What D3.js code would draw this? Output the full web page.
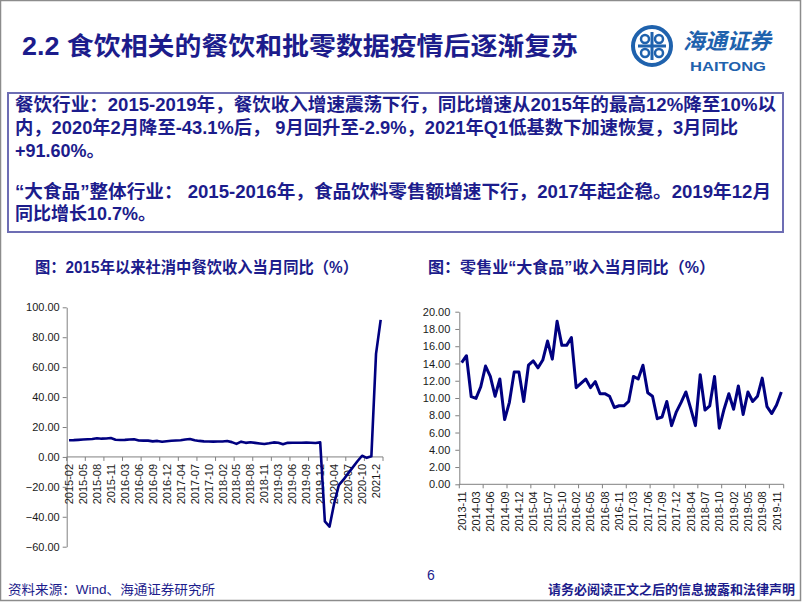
<!DOCTYPE html>
<html><head><meta charset="utf-8">
<script src="https://cdn.jsdelivr.net/npm/d3@7"></script>
<style>
html,body{margin:0;padding:0;background:#fff;}
svg{display:block;}
</style></head>
<body>
<script>
// ---------- DATA ----------
const restCategories = [
"2015-02","2015-03","2015-04","2015-05","2015-06","2015-07","2015-08","2015-09","2015-10","2015-11","2015-12",
"2016-02","2016-03","2016-04","2016-05","2016-06","2016-07","2016-08","2016-09","2016-10","2016-11","2016-12",
"2017-02","2017-03","2017-04","2017-05","2017-06","2017-07","2017-08","2017-09","2017-10","2017-11","2017-12",
"2018-02","2018-03","2018-04","2018-05","2018-06","2018-07","2018-08","2018-09","2018-10","2018-11","2018-12",
"2019-02","2019-03","2019-04","2019-05","2019-06","2019-07","2019-08","2019-09","2019-10","2019-11","2019-12",
"2020-02","2020-03","2020-04","2020-05","2020-06","2020-07","2020-08","2020-09","2020-10","2020-11","2020-12",
"2021-2","2021-03"];
const restValues = [
11.1,11.2,11.4,11.6,11.8,12.0,12.5,12.2,12.3,12.6,11.5,
11.3,11.4,11.6,11.8,11.0,10.9,10.9,10.4,10.7,10.1,10.5,
10.8,11.0,11.1,11.6,12.0,11.1,10.7,10.4,10.3,10.2,10.3,
10.3,10.6,9.9,8.7,10.2,9.4,9.8,9.4,9.0,8.6,9.1,
9.7,9.5,8.5,9.4,9.5,9.5,9.5,9.6,9.5,9.3,9.7,
-43.1,-46.6,-31.1,-18.9,-15.2,-11.0,-7.0,-2.9,0.8,-0.6,0.4,
68.9,91.6];
const restYTicks = [-60,-40,-20,0,20,40,60,80,100];

const foodCategories = [
"2013-11","2013-12",
"2014-02","2014-03","2014-04","2014-05","2014-06","2014-07","2014-08","2014-09","2014-10","2014-11","2014-12",
"2015-02","2015-03","2015-04","2015-05","2015-06","2015-07","2015-08","2015-09","2015-10","2015-11","2015-12",
"2016-02","2016-03","2016-04","2016-05","2016-06","2016-07","2016-08","2016-09","2016-10","2016-11","2016-12",
"2017-02","2017-03","2017-04","2017-05","2017-06","2017-07","2017-08","2017-09","2017-10","2017-11","2017-12",
"2018-02","2018-03","2018-04","2018-05","2018-06","2018-07","2018-08","2018-09","2018-10","2018-11","2018-12",
"2019-02","2019-03","2019-04","2019-05","2019-06","2019-07","2019-08","2019-09","2019-10","2019-11","2019-12"];
const foodValues = [
14.1,14.9,
10.15,9.96,11.3,13.7,12.5,10.2,12.2,7.5,9.5,13.0,13.0,
9.6,13.8,14.3,13.5,14.4,16.6,14.5,18.9,16.1,16.1,17.0,
11.2,11.7,12.2,11.2,11.9,10.5,10.5,10.2,8.9,9.1,9.1,
9.6,12.5,12.2,13.8,10.6,10.2,7.6,7.8,9.6,6.8,8.4,
9.5,10.7,8.8,6.8,12.7,8.6,9.1,12.5,6.5,8.7,10.5,
8.7,11.4,8.1,10.7,9.6,10.2,12.3,9.0,8.2,9.2,10.7];
const foodYTicks = [0,2,4,6,8,10,12,14,16,18,20];

const titleText = "2.2 食饮相关的餐饮和批零数据疫情后逐渐复苏";
const boxLines = [
 "餐饮行业：2015-2019年，餐饮收入增速震荡下行，同比增速从2015年的最高12%降至10%以",
 "内，2020年2月降至-43.1%后， 9月回升至-2.9%，2021年Q1低基数下加速恢复，3月同比",
 "+91.60%。",
 "",
 "“大食品”整体行业： 2015-2016年，食品饮料零售额增速下行，2017年起企稳。2019年12月",
 "同比增长10.7%。"];
const leftChartTitle = "图：2015年以来社消中餐饮收入当月同比（%）";
const rightChartTitle = "图：零售业“大食品”收入当月同比（%）";
const sourceText = "资料来源：Wind、海通证券研究所";
const disclaimerText = "请务必阅读正文之后的信息披露和法律声明";
const pageNumber = "6";

// ---------- DRAW ----------
const NAVY = "#1c1c8c";
const FONT = "'Liberation Sans','Noto Sans CJK SC',Arial,sans-serif";
const svg = d3.select("body").append("svg").attr("width",802).attr("height",602)
  .style("font-family",FONT);
svg.append("rect").attr("width",802).attr("height",602).attr("fill","#fff");
svg.append("rect").attr("x",0.5).attr("y",0.5).attr("width",800).attr("height",600)
  .attr("fill","none").attr("stroke","#8c8c8c").attr("stroke-width",1.5);

// title
svg.append("text").attr("x",22).attr("y",55).attr("font-size",25).attr("font-weight","bold")
  .attr("fill",NAVY).attr("textLength",556).attr("lengthAdjust","spacingAndGlyphs").text(titleText);

// logo
const LB = "#1f62ad";
const lg = svg.append("g").attr("transform","translate(652,46)");
lg.append("circle").attr("r",19).attr("fill","none").attr("stroke",LB).attr("stroke-width",4);
lg.append("path").attr("d","M0,-14 L0,14 M-14,0 L14,0").attr("stroke",LB).attr("stroke-width",3);
[[-7,-7],[7,-7],[-7,7],[7,7]].forEach(([cx,cy])=>{
  lg.append("circle").attr("cx",cx).attr("cy",cy).attr("r",4).attr("fill","none").attr("stroke",LB).attr("stroke-width",2.5);
});
svg.append("text").attr("x",683).attr("y",49).attr("font-size",22).attr("font-weight","bold")
  .attr("font-style","italic").attr("fill",LB).attr("textLength",88).attr("lengthAdjust","spacingAndGlyphs").text("海通证券");
svg.append("text").attr("x",690).attr("y",71).attr("font-size",13).attr("font-weight","bold")
  .attr("fill",LB).attr("textLength",76).attr("lengthAdjust","spacingAndGlyphs").text("HAITONG");

// text box
svg.append("rect").attr("x",8).attr("y",93).attr("width",775).attr("height",139)
  .attr("fill","none").attr("stroke","#6d6db4").attr("stroke-width",2);
const lineY = [111,134,157,0,198,220];
const lineW = [761,723,null,0,756,null];
boxLines.forEach((t,i)=>{
  if(!t) return;
  const el = svg.append("text").attr("x",15).attr("y",lineY[i]).attr("font-size",18)
    .attr("font-weight","bold").attr("fill",NAVY).text(t);
  if(lineW[i]) el.attr("textLength",lineW[i]).attr("lengthAdjust","spacingAndGlyphs");
});

// chart titles
svg.append("text").attr("x",35).attr("y",273).attr("font-size",16).attr("font-weight","bold")
  .attr("fill",NAVY).attr("textLength",323).attr("lengthAdjust","spacingAndGlyphs").text(leftChartTitle);
svg.append("text").attr("x",428).attr("y",273).attr("font-size",16).attr("font-weight","bold")
  .attr("fill",NAVY).attr("textLength",287).attr("lengthAdjust","spacingAndGlyphs").text(rightChartTitle);

function drawChart(opt){
  const g = svg.append("g");
  const x = d3.scaleBand().domain(opt.cats).range([opt.x0,opt.x1]).paddingInner(0).paddingOuter(0);
  const y = d3.scaleLinear().domain(opt.ydom).range([opt.yb,opt.yt]);
  const cx = c => x(c)+x.bandwidth()/2;
  // y axis
  const ya = g.append("g").attr("transform",`translate(${opt.x0},0)`)
    .call(d3.axisLeft(y).tickValues(opt.yticks).tickFormat(d3.format(".2f")).tickSize(4).tickPadding(opt.ypad).tickSizeOuter(0));
  ya.select(".domain").attr("stroke","#808080");
  ya.selectAll(".tick line").attr("stroke","#808080");
  ya.selectAll("text").attr("font-size",11).attr("fill","#1a1a1a").style("font-family","'Liberation Sans',Arial,sans-serif");
  // x axis at zero
  const y0 = y(0);
  g.append("line").attr("x1",opt.x0).attr("x2",opt.x1).attr("y1",y0).attr("y2",y0).attr("stroke","#808080");
  const tickCats = opt.cats.filter((d,i)=>i%opt.tickEvery===0);
  g.selectAll(".xt").data(tickCats).join("line")
    .attr("x1",d=>x(d)).attr("x2",d=>x(d)).attr("y1",y0).attr("y2",y0+4).attr("stroke","#808080");
  g.append("line").attr("x1",opt.x1).attr("x2",opt.x1).attr("y1",y0).attr("y2",y0+4).attr("stroke","#808080");
  const labCats = opt.cats.filter((d,i)=>i%3===0);
  g.selectAll(".xl").data(labCats).join("text")
    .attr("transform",d=>`translate(${cx(d)+4},${y0+opt.labGap}) rotate(-90)`)
    .attr("text-anchor","end").attr("font-size",11).attr("fill","#1a1a1a")
    .style("font-family","'Liberation Sans',Arial,sans-serif").text(d=>d);
  // line
  const line = d3.line().x((d,i)=>cx(opt.cats[i])).y(d=>y(d));
  g.append("path").datum(opt.vals).attr("d",line).attr("fill","none")
    .attr("stroke","#000080").attr("stroke-width",opt.sw).attr("stroke-linejoin","round");
}

drawChart({cats:restCategories, vals:restValues, ydom:[-60,100], yticks:restYTicks,
  x0:66.7, x1:383, yt:307.3, yb:546.7, ypad:3, tickEvery:4, labGap:7, sw:2.6});
drawChart({cats:foodCategories, vals:foodValues, ydom:[0,20], yticks:foodYTicks,
  x0:459.3, x1:783.7, yt:311.7, yb:484.3, ypad:5, tickEvery:5, labGap:7, sw:3});

// footer
svg.append("text").attr("x",431).attr("y",580).attr("font-size",14).attr("text-anchor","middle")
  .attr("fill",NAVY).style("font-family","'Liberation Sans',Arial,sans-serif").text(pageNumber);
svg.append("text").attr("x",8).attr("y",594).attr("font-size",13).attr("fill",NAVY)
  .attr("textLength",207).attr("lengthAdjust","spacingAndGlyphs").text(sourceText);
svg.append("text").attr("x",795).attr("y",594).attr("font-size",13).attr("font-weight","bold")
  .attr("text-anchor","end").attr("fill",NAVY).text(disclaimerText);
</script>
</body></html>
